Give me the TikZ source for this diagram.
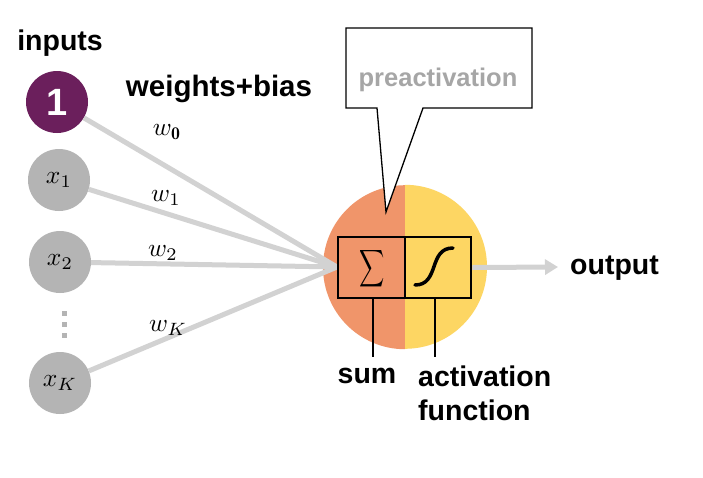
\documentclass[tikz,border=0pt]{standalone}
\usepackage{graphicx}
\usepackage{fontspec}
\newfontfamily\arial{Liberation Sans}
\usetikzlibrary{arrows.meta}
\definecolor{purp}{HTML}{6B1F5C}
\definecolor{ingray}{HTML}{B4B4B4}
\definecolor{lgray}{HTML}{D2D2D2}
\definecolor{orng}{HTML}{F0956A}
\definecolor{yell}{HTML}{FDD663}
\definecolor{txtgray}{HTML}{A6A6A6}
\newcommand{\mathbigx}[1]{\scalebox{2.55}{$#1$}}
\begin{document}
\begin{tikzpicture}[x=1pt,y=-1pt,
  innode/.style={circle,minimum size=62pt,inner sep=0pt,fill=ingray},
  wlabel/.style={inner sep=0pt},
  bold/.style={font=\arial\bfseries\fontsize{28.5}{32}\selectfont,inner sep=0pt},
  conn/.style={draw=lgray,line width=5pt},
  thin/.style={draw=black,line width=1.3pt},
  boxst/.style={draw=black,line width=2.6pt,minimum height=61pt,inner sep=0pt}]
\useasboundingbox (0,0) rectangle (703,477);
\fill[white] (0,0) rectangle (703,477);
% titles
\node[bold] (inputs) at (60,43) {inputs};
\node[bold,font=\arial\bfseries\fontsize{29.5}{32}\selectfont] (wb) at (219,89) {weights+bias};
% neuron circle halves
\node[circle,minimum size=164pt,inner sep=0pt] (neuron) at (405,267) {};
\fill[orng] (neuron.south) arc[start angle=270,end angle=90,radius=82pt] -- cycle;
\fill[yell] (neuron.north) arc[start angle=90,end angle=-90,radius=82pt] -- cycle;
% input nodes
\node[innode,fill=purp,text=white,font=\arial\bfseries\fontsize{38}{40}\selectfont] (one) at (57,102) {1};
\node[innode] (x1) at (59,180) {\mathbigx{x_1}};
\node[innode] (x2) at (60,262) {\mathbigx{x_2}};
\node[innode] (xK) at (60,383) {\mathbigx{x_K}};
\foreach \yy [count=\i] in {313,324,335}
  \fill[ingray] (62,\yy-2.5) rectangle (67,\yy+2.5);
% boxes
\node[boxst,minimum width=67pt] (sumbox) at (371.5,267.5) {};
\node[boxst,minimum width=66pt] (actbox) at (438,267.5) {};
\coordinate (conv) at (337,267);
% connectors
\draw[conn] (one) -- (conv);
\draw[conn] (x1) -- (conv);
\draw[conn,-{Triangle[length=12pt,width=14pt]}] (x2) -- (conv);
\draw[conn] (xK) -- (conv);
\node[boxst,minimum width=67pt] at (sumbox) {};
\node[boxst,minimum width=66pt] at (actbox) {};
% weight labels
\node[wlabel] (w0) at (167,132) {\mathbigx{w_{\mathbf{0}}}};
\node[wlabel] (w1) at (166,198) {\mathbigx{w_1}};
\node[wlabel] (w2) at (163,253) {\mathbigx{w_2}};
\node[wlabel] (wK) at (168,328) {\mathbigx{w_K}};
% sum symbol
\node[inner sep=0pt] (sig) at (372,269) {\scalebox{1.75}[2.6]{$\displaystyle\sum$}};
% sigmoid
\draw[line width=3.5pt,line cap=round] (415,285) .. controls (440,285) and (428,248) .. (453,248);
% output
\coordinate (outend) at (558,267);
\draw[conn,-{Triangle[length=13pt,width=15pt]}] (actbox.east) -- (outend);
\node[bold,anchor=west] (output) at (570,268) {output};
% labels under
\coordinate (sumend) at (373,357);
\coordinate (actend) at (435,357);
\draw[thin] (sumbox.south -| sumend) -- (sumend);
\draw[thin] (actbox.south -| actend) -- (actend);
\node[bold] (sum) at (367,376) {sum};
\node[bold,anchor=west] (act) at (418,376) {activation};
\node[bold,anchor=west] (func) at (418,410) {function};
% callout
\coordinate (ctip) at (386,212);
\filldraw[fill=white,draw=black,line width=1.3pt,line join=miter] (346,28) -- (532,28) -- (532,108) -- (423,108) -- (ctip) -- (377,108) -- (346,108) -- cycle;
\node[font=\arial\bfseries\fontsize{25.5}{28}\selectfont,text=txtgray,inner sep=0pt] (preact) at (438,80) {preactivation};
\end{tikzpicture}
\end{document}
